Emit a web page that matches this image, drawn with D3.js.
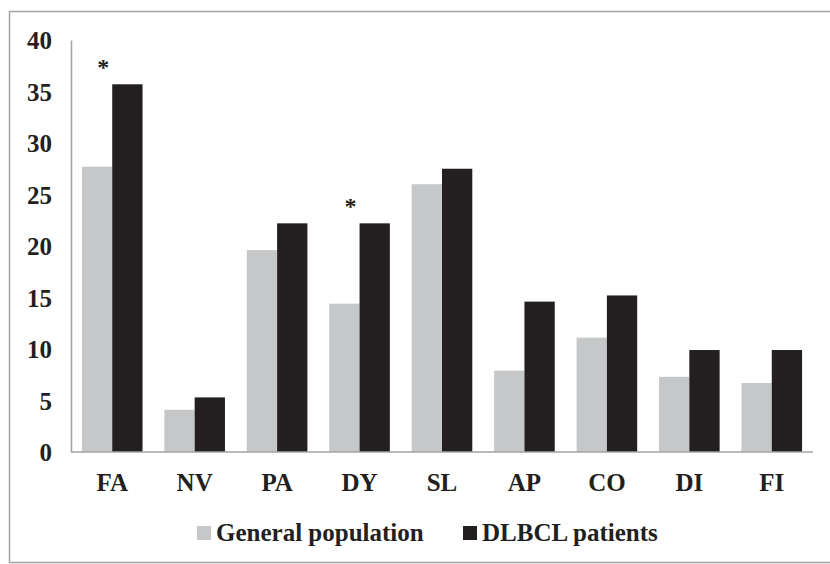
<!DOCTYPE html>
<html>
<head>
<meta charset="utf-8">
<script src="https://cdn.jsdelivr.net/npm/d3@7/dist/d3.min.js"></script>
<style>
  html, body { margin: 0; padding: 0; background: #fff; }
  svg { display: block; }
  text { font-family: "Liberation Serif", "Times New Roman", serif; font-weight: bold; fill: #231f20; }
</style>
</head>
<body>
<svg id="chart" width="830" height="564"></svg>
<script>
// Symptom domains and their scores
const categories = ["FA", "NV", "PA", "DY", "SL", "AP", "CO", "DI", "FI"];
const generalPopulation = [27.7, 4.1, 19.6, 14.4, 26.0, 7.9, 11.1, 7.3, 6.7];
const dlbclPatients = [35.7, 5.3, 22.2, 22.2, 27.5, 14.6, 15.2, 9.9, 9.9];
const seriesNames = ["General population", "DLBCL patients"];
const seriesColors = ["#c6c7c9", "#231f20"];
const yTicks = [0, 5, 10, 15, 20, 25, 30, 35, 40];
// Categories flagged as significantly different
const significant = ["FA", "DY"];

const svg = d3.select("#chart");
const W = 830, H = 564;
const m = { left: 71, right: 17, top: 40, bottom: 112 };
const FONT = 25;

// outer frame
svg.append("rect")
  .attr("x", 9.5).attr("y", 11.5)
  .attr("width", W + 20).attr("height", 551)
  .attr("fill", "none").attr("stroke", "#a3a3a3").attr("stroke-width", 1.5);

const x = d3.scaleBand()
  .domain(categories)
  .range([m.left, W - m.right])
  .paddingInner(0.265)
  .paddingOuter(0.1325);

const xs = d3.scaleBand()
  .domain(seriesNames)
  .range([0, x.bandwidth()]);

const y = d3.scaleLinear()
  .domain([0, 40])
  .range([H - m.bottom, m.top]);

const rows = categories.map((c, i) => ({ cat: c, vals: [generalPopulation[i], dlbclPatients[i]] }));

// bars
const g = svg.append("g");
rows.forEach(r => {
  r.vals.forEach((v, k) => {
    g.append("rect")
      .attr("x", x(r.cat) + xs(seriesNames[k]))
      .attr("y", y(v))
      .attr("width", xs.bandwidth())
      .attr("height", y(0) - y(v))
      .attr("fill", seriesColors[k]);
  });
});

// y axis
const yAxis = svg.append("g")
  .attr("transform", `translate(${m.left},0)`)
  .call(d3.axisLeft(y).tickValues(yTicks).tickSize(0).tickPadding(19));
yAxis.select(".domain").attr("stroke", "#a3a3a3").attr("stroke-width", 1.5);
yAxis.selectAll("text").attr("font-size", FONT).attr("dy", "0.34em")
  .style("font-family", "'Liberation Serif', serif").style("font-weight", "bold").attr("fill", "#231f20");

// x axis
const xAxis = svg.append("g")
  .attr("transform", `translate(0,${y(0)})`)
  .call(d3.axisBottom(x).tickSize(0).tickPadding(21));
xAxis.select(".domain").attr("stroke", "#a3a3a3").attr("stroke-width", 1.5)
  .attr("d", `M${m.left},0H${W - m.right}`);
xAxis.selectAll("text").attr("font-size", FONT)
  .style("font-family", "'Liberation Serif', serif").style("font-weight", "bold").attr("fill", "#231f20");

// significance markers
significant.forEach(c => {
  const i = categories.indexOf(c);
  svg.append("text")
    .attr("x", x(c) + x.bandwidth() / 2 - 9)
    .attr("y", y(dlbclPatients[i] + 1.9) + 10)
    .attr("text-anchor", "middle")
    .attr("font-size", 24)
    .text("*");
});

// legend
const legend = svg.append("g").attr("transform", "translate(197,526)");
const legendX = [0, 266];
seriesNames.forEach((name, k) => {
  const lg = legend.append("g").attr("transform", `translate(${legendX[k]},0)`);
  lg.append("rect").attr("x", 0).attr("y", 0).attr("width", 14).attr("height", 14)
    .attr("fill", seriesColors[k]);
  lg.append("text").attr("x", 19).attr("y", 15).attr("font-size", FONT).text(name);
});
</script>
</body>
</html>
